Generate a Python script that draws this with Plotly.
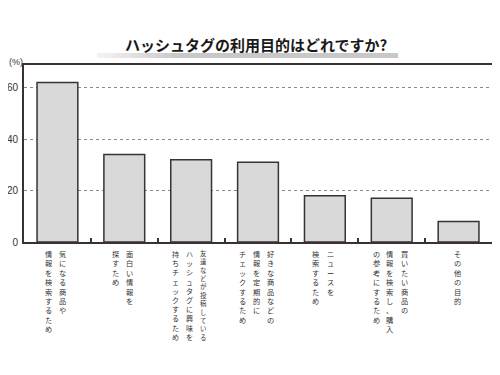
import plotly.graph_objects as go

# ---- data ----
categories = [
    "気になる商品や\n情報を検索するため",
    "面白い情報を\n探すため",
    "友達などが投稿している\nハッシュタグに興味を\n持ちチェックするため",
    "好きな商品などの\n情報を定期的に\nチェックするため",
    "ニュースを\n検索するため",
    "買いたい商品の\n情報を検索し、購入\nの参考にするため",
    "その他の目的",
]
values = [62, 34, 32, 31, 18, 17, 8]
y_tickvals = [0, 20, 40, 60]
y_ticktext = ["0", "20", "40", "60"]
title_text = "ハッシュタグの利用目的はどれですか?"
unit_text = "(%)"

# page body has an 8px margin, so the figure is sized to fit the 500x375 window
OFF = 8
W, H = 500 - OFF, 375 - OFF
PL, PR, PT, PB = 24, 492, 65, 242  # plot-area edges in window pixels
ML, MT = PL - OFF, PT - OFF
MR = W - (PR - OFF)
MB = H - (PB - OFF)
plot_w = W - ML - MR
plot_h = H - MT - MB

keys = [c.replace("\n", "") for c in categories]

fig = go.Figure()
fig.add_trace(go.Bar(
    x=keys, y=values, width=0.61,
    marker=dict(color="#d9d9d9", line=dict(color="#3a3232", width=1.5)),
    hoverinfo="x+y", showlegend=False,
))

FRAME = "#3a3232"
LBL = "Noto Sans CJK JP"
annotations = []


def px2x(px):  # window px -> paper x
    return (px - OFF - ML) / plot_w


def py2y(py):  # window px -> paper y
    return (MT + plot_h - (py - OFF)) / plot_h


# vertical (tategaki) category labels: one stacked annotation per column
col_sp = 13.8
for i, cat in enumerate(categories):
    cols = cat.split("\n")
    n = len(cols)
    for j, col in enumerate(cols):
        xs = -1.5 + (n - 1) / 2 * col_sp - j * col_sp
        pitch = min(9.4, 92.0 / len(col))
        fs = pitch / 1.3
        annotations.append(dict(
            x=i, xref="x", y=0, yref="paper",
            xanchor="center", yanchor="top",
            xshift=xs, yshift=-5,
            text="<br>".join(list(col)), showarrow=False, align="center",
            font=dict(family=LBL, size=fs, color="#333333"),
        ))

# title
annotations.append(dict(
    x=px2x(256), xref="paper", y=py2y(45), yref="paper",
    xanchor="center", yanchor="middle", text="<b>" + title_text + "</b>",
    showarrow=False, font=dict(family=LBL, size=15, color="#1a1a1a"),
))
# unit
annotations.append(dict(
    x=px2x(25), xref="paper", y=py2y(62), yref="paper",
    xanchor="right", yanchor="middle", text=unit_text, showarrow=False,
    font=dict(family="Liberation Sans", size=9, color="#333333"),
))

# gradient band under the title
shapes = []
steps = 10
x0, x1, xe = 97, 180, 398
for s in range(steps):
    a = x0 + (x1 - x0) * s / steps
    b = x0 + (x1 - x0) * (s + 1) / steps + 0.5
    g = int(245 - (245 - 200) * (s + 0.5) / steps)
    shapes.append(dict(type="rect", xref="paper", yref="paper",
                       x0=px2x(a), x1=px2x(b), y0=py2y(58), y1=py2y(53),
                       line=dict(width=0), fillcolor=f"rgb({g},{g},{g})", layer="below"))
shapes.append(dict(type="rect", xref="paper", yref="paper",
                   x0=px2x(x1), x1=px2x(xe), y0=py2y(58), y1=py2y(53),
                   line=dict(width=0), fillcolor="rgb(200,200,200)", layer="below"))

fig.update_layout(
    width=W, height=H,
    margin=dict(l=ML, r=MR, t=MT, b=MB, pad=0, autoexpand=False),
    paper_bgcolor="white", plot_bgcolor="white",
    bargap=0.39,
    annotations=annotations,
    shapes=shapes,
    xaxis=dict(
        type="category", categoryorder="array", categoryarray=keys,
        showticklabels=False, ticks="inside", tickson="boundaries",
        ticklen=4, tickwidth=1.5, tickcolor=FRAME,
        showline=True, linecolor=FRAME, linewidth=2, mirror=True,
        showgrid=False, zeroline=False, fixedrange=True, automargin=False,
    ),
    yaxis=dict(
        range=[0, 68.8], tickvals=y_tickvals, ticktext=y_ticktext,
        ticks="", showline=True, linecolor=FRAME, linewidth=2, mirror=True,
        showgrid=True, gridcolor="#8a8a8a", griddash="dot", gridwidth=1,
        zeroline=False, tickfont=dict(family="Liberation Sans", size=10, color="#333333"),
        ticklabelstandoff=2, fixedrange=True, automargin=False,
    ),
)

fig.write_html("out.html")
